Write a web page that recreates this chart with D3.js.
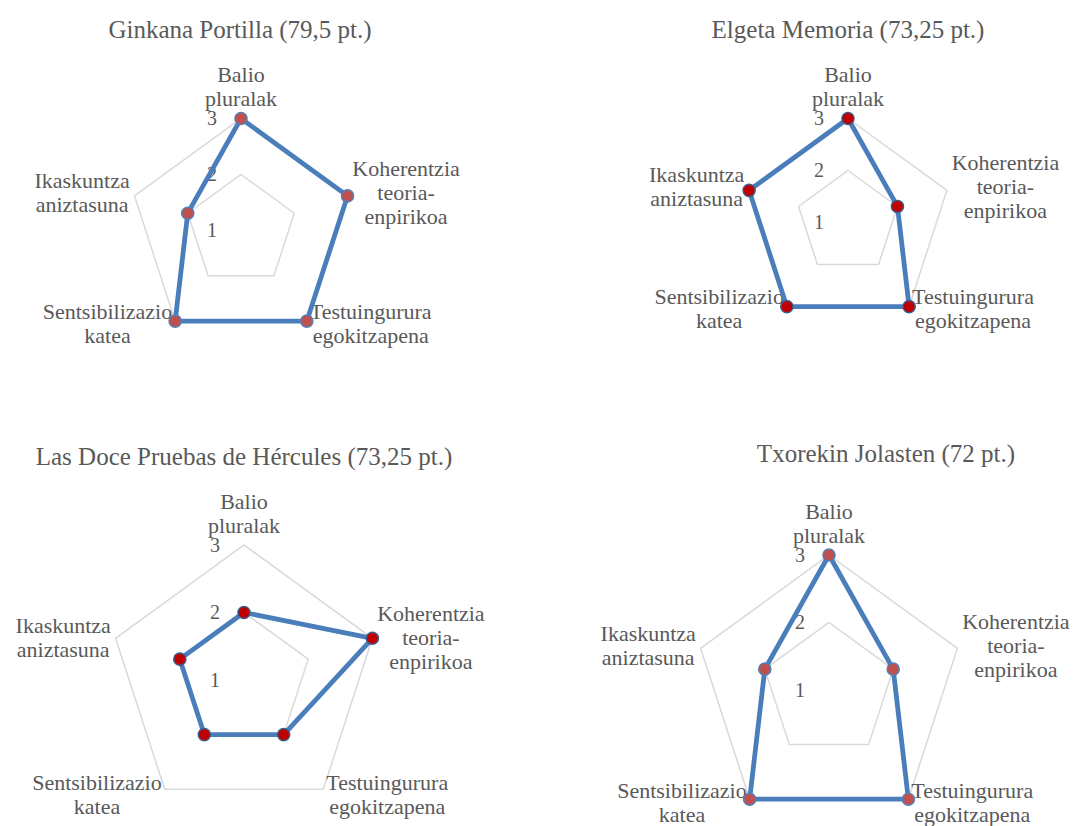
<!DOCTYPE html>
<html>
<head>
<meta charset="utf-8">
<script src="https://cdn.jsdelivr.net/npm/d3@7"></script>
<style>
  html, body { margin: 0; padding: 0; background: #ffffff; }
  svg { display: block; }
  text { font-family: "Liberation Serif", "Times New Roman", serif; fill: #595959; }
</style>
</head>
<body>
<svg id="chart" width="1078" height="826"></svg>
<script>
// Criteria (axes), clockwise from the top; each label is split into its printed lines
const axisLabels = [
  ["Balio", "pluralak"],
  ["Koherentzia", "teoria-", "enpirikoa"],
  ["Testuingurura", "egokitzapena"],
  ["Sentsibilizazio", "katea"],
  ["Ikaskuntza", "aniztasuna"]
];
const tickValues = [1, 2, 3];
const chartTitles = [
  "Ginkana Portilla (79,5 pt.)",
  "Elgeta Memoria (73,25 pt.)",
  "Las Doce Pruebas de Hércules (73,25 pt.)",
  "Txorekin Jolasten (72 pt.)"
];
// Scores per criterion, same order as axisLabels
const portillaScores = [3, 3, 3, 3, 2];
const elgetaScores   = [3, 2, 3, 3, 3];
const herculesScores = [2, 3, 2, 2, 2];
const txorekinScores = [3, 2, 3, 3, 2];

// Panel geometry and styling
const panels = [
  { title: chartTitles[0], scores: portillaScores, cx: 241, cy: 230.5, r: 112, tx: 240, ty: 38,
    fill: "#c0504d", edge: "#4f81bd", labelShift: 0 },
  { title: chartTitles[1], scores: elgetaScores, cx: 848, cy: 222.5, r: 104, tx: 848, ty: 38,
    fill: "#c00000", edge: "#3a5f8f", labelShift: 0 },
  { title: chartTitles[2], scores: herculesScores, cx: 244, cy: 680, r: 135, tx: 244, ty: 465,
    fill: "#c00000", edge: "#3a5f8f", labelShift: 3 },
  { title: chartTitles[3], scores: txorekinScores, cx: 829, cy: 690, r: 135, tx: 886, ty: 462,
    fill: "#c0504d", edge: "#4f81bd", labelShift: 1 }
];

const svg = d3.select("#chart");
const nAxes = axisLabels.length;
const angleOf = i => i * 2 * Math.PI / nAxes;
const labelSize = 22, lineH = 24, tickSize = 20, titleSize = 25;

panels.forEach(p => {
  const g = svg.append("g").attr("transform", `translate(${p.cx},${p.cy})`);
  const rScale = d3.scaleLinear().domain([d3.min(tickValues), d3.max(tickValues)]).range([0, p.r]);

  // Title
  svg.append("text")
    .attr("x", p.tx).attr("y", p.ty)
    .attr("text-anchor", "middle")
    .style("font-size", titleSize + "px")
    .text(p.title);

  // Gridline pentagons
  const ring = d3.lineRadial()
    .angle((d, i) => angleOf(i))
    .radius(d => rScale(d))
    .curve(d3.curveLinearClosed);
  g.selectAll("path.grid")
    .data(tickValues.filter(t => rScale(t) > 0))
    .join("path")
    .attr("class", "grid")
    .attr("d", t => ring(d3.range(nAxes).map(() => t)))
    .attr("fill", "none")
    .attr("stroke", "#d9d9d9")
    .attr("stroke-width", 1.5);

  // Tick labels along the top axis
  g.selectAll("text.tick")
    .data(tickValues)
    .join("text")
    .attr("class", "tick")
    .attr("x", -24)
    .attr("y", t => d3.pointRadial(0, rScale(t))[1] + 6.8)
    .attr("text-anchor", "end")
    .style("font-size", tickSize + "px")
    .text(t => t);

  // Axis labels, placed just outside each outer vertex
  axisLabels.forEach((lines, i) => {
    const a = angleOf(i);
    const [vx, vy] = d3.pointRadial(a, rScale(d3.max(tickValues)));
    const s = Math.sin(a), c = Math.cos(a);
    const lg = g.append("g");
    const texts = lines.map(l => lg.append("text")
      .attr("text-anchor", "middle")
      .style("font-size", labelSize + "px")
      .text(l));
    const n = lines.length;
    if (Math.abs(s) < 0.2) {
      texts.forEach((t, j) => t.attr("x", vx).attr("y", vy - 12.5 - (n - 1 - j) * lineH));
    } else {
      const w = d3.max(texts, t => t.node().getComputedTextLength());
      const ax = vx + 5 * s, ay = vy - 5 * c + p.labelShift;
      const mx = s > 0 ? ax + w / 2 : ax - w / 2;
      texts.forEach((t, j) => t.attr("x", mx).attr("y", ay + (j - (n - 1) / 2) * lineH + 5.5));
    }
  });

  // Series outline
  const shape = d3.lineRadial()
    .angle((d, i) => angleOf(i))
    .radius(d => rScale(d))
    .curve(d3.curveLinearClosed);
  g.append("path")
    .attr("d", shape(p.scores))
    .attr("fill", "none")
    .attr("stroke", "#4a7ebb")
    .attr("stroke-width", 4.8)
    .attr("stroke-linejoin", "round");

  // Markers
  g.selectAll("circle.pt")
    .data(p.scores)
    .join("circle")
    .attr("class", "pt")
    .attr("cx", (d, i) => d3.pointRadial(angleOf(i), rScale(d))[0])
    .attr("cy", (d, i) => d3.pointRadial(angleOf(i), rScale(d))[1])
    .attr("r", 6.1)
    .attr("fill", p.fill)
    .attr("stroke", p.edge)
    .attr("stroke-width", 1.4);
});
</script>
</body>
</html>
